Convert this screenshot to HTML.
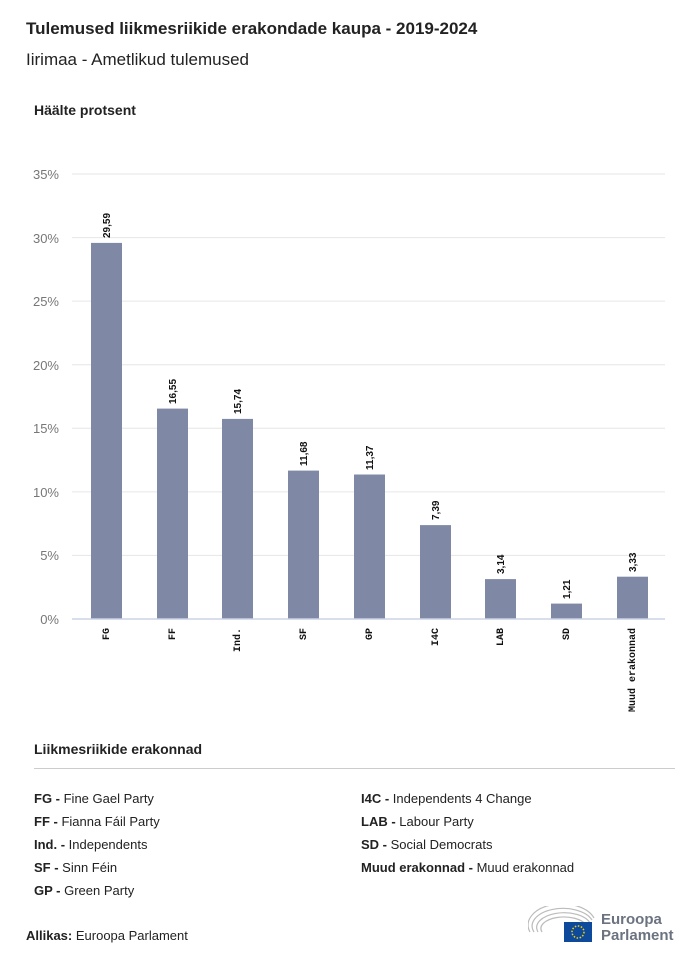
<!DOCTYPE html>
<html><head><meta charset="utf-8"><style>
body{margin:0;width:700px;height:962px;background:#fff;font-family:"Liberation Sans",sans-serif;color:#222;position:relative;overflow:hidden}
.a{position:absolute;white-space:nowrap}
</style></head><body>
<div class="a" style="left:26px;top:19px;font-size:17px;font-weight:bold">Tulemused liikmesriikide erakondade kaupa - 2019-2024</div>
<div class="a" style="left:26px;top:50px;font-size:17px">Iirimaa - Ametlikud tulemused</div>
<div class="a" style="left:34px;top:102px;font-size:14px;font-weight:bold">Häälte protsent</div>
<svg class="a" style="left:0;top:0" width="700" height="730">
<g font-family="Liberation Sans" font-size="13" fill="#777" text-anchor="end">
<line x1="72" x2="665" y1="174" y2="174" stroke="#e6e6e6"/><text x="59" y="179">35%</text>
<line x1="72" x2="665" y1="237.6" y2="237.6" stroke="#e6e6e6"/><text x="59" y="243">30%</text>
<line x1="72" x2="665" y1="301.1" y2="301.1" stroke="#e6e6e6"/><text x="59" y="306">25%</text>
<line x1="72" x2="665" y1="364.7" y2="364.7" stroke="#e6e6e6"/><text x="59" y="370">20%</text>
<line x1="72" x2="665" y1="428.3" y2="428.3" stroke="#e6e6e6"/><text x="59" y="433">15%</text>
<line x1="72" x2="665" y1="491.9" y2="491.9" stroke="#e6e6e6"/><text x="59" y="497">10%</text>
<line x1="72" x2="665" y1="555.4" y2="555.4" stroke="#e6e6e6"/><text x="59" y="560">5%</text>
<text x="59" y="624">0%</text>
</g>
<g fill="#7f88a5">
<rect x="91" y="242.9" width="31" height="376.1"/>
<rect x="157" y="408.6" width="31" height="210.4"/>
<rect x="222" y="418.9" width="31" height="200.1"/>
<rect x="288" y="470.6" width="31" height="148.4"/>
<rect x="354" y="474.5" width="31" height="144.5"/>
<rect x="420" y="525.1" width="31" height="93.9"/>
<rect x="485" y="579.1" width="31" height="39.9"/>
<rect x="551" y="603.6" width="31" height="15.4"/>
<rect x="617" y="576.7" width="31" height="42.3"/>
</g>
<line x1="72" x2="665" y1="619" y2="619" stroke="#ccd3e6" stroke-width="1.5"/>
<g font-family="Liberation Sans" font-size="10" font-weight="bold" fill="#111">
<text transform="translate(110,238) rotate(-90)">29,59</text>
<text transform="translate(176,404) rotate(-90)">16,55</text>
<text transform="translate(241,414) rotate(-90)">15,74</text>
<text transform="translate(307,466) rotate(-90)">11,68</text>
<text transform="translate(373,470) rotate(-90)">11,37</text>
<text transform="translate(439,520) rotate(-90)">7,39</text>
<text transform="translate(504,574) rotate(-90)">3,14</text>
<text transform="translate(570,599) rotate(-90)">1,21</text>
<text transform="translate(636,572) rotate(-90)">3,33</text>
</g>
<g font-family="Liberation Mono" font-size="10" font-weight="bold" fill="#111" text-anchor="end">
<text transform="translate(109,628) rotate(-90)">FG</text>
<text transform="translate(175,628) rotate(-90)">FF</text>
<text transform="translate(240,628) rotate(-90)">Ind.</text>
<text transform="translate(306,628) rotate(-90)">SF</text>
<text transform="translate(372,628) rotate(-90)">GP</text>
<text transform="translate(438,628) rotate(-90)">I4C</text>
<text transform="translate(503,628) rotate(-90)">LAB</text>
<text transform="translate(569,628) rotate(-90)">SD</text>
<text transform="translate(635,628) rotate(-90)">Muud erakonnad</text>
</g>
</svg>
<div class="a" style="left:34px;top:741px;font-size:14px;font-weight:bold">Liikmesriikide erakonnad</div>
<div class="a" style="left:34px;top:768px;width:641px;height:1px;background:#ccc"></div>
<div class="a" style="left:34px;top:787px;font-size:13px;line-height:23px"><b>FG -</b> Fine Gael Party<br><b>FF -</b> Fianna Fáil Party<br><b>Ind. -</b> Independents<br><b>SF -</b> Sinn Féin<br><b>GP -</b> Green Party</div>
<div class="a" style="left:361px;top:787px;font-size:13px;line-height:23px"><b>I4C -</b> Independents 4 Change<br><b>LAB -</b> Labour Party<br><b>SD -</b> Social Democrats<br><b>Muud erakonnad -</b> Muud erakonnad</div>
<div class="a" style="left:26px;top:928px;font-size:13px"><b>Allikas:</b> Euroopa Parlament</div>
<svg class="a" style="left:528px;top:906px" width="70" height="38">
<g fill="none" stroke="#bbb" stroke-width="1.2">
<path d="M2 26 A32 20 0 0 1 66 12"/><path d="M6 26 A28 16 0 0 1 64 14"/><path d="M10 26 A24 13 0 0 1 62 17"/><path d="M14 26 A20 10 0 0 1 58 19"/>
</g>
<rect x="36" y="16" width="28" height="20" fill="#0e4a9c"/>
<circle cx="50" cy="26" r="6" fill="none" stroke="#f5d000" stroke-width="1.5" stroke-dasharray="1.5 1.6"/>
</svg>
<div class="a" style="left:601px;top:912px;font-size:15px;font-weight:bold;color:#6b7380;line-height:16px">Euroopa<br>Parlament</div>
</body></html>
